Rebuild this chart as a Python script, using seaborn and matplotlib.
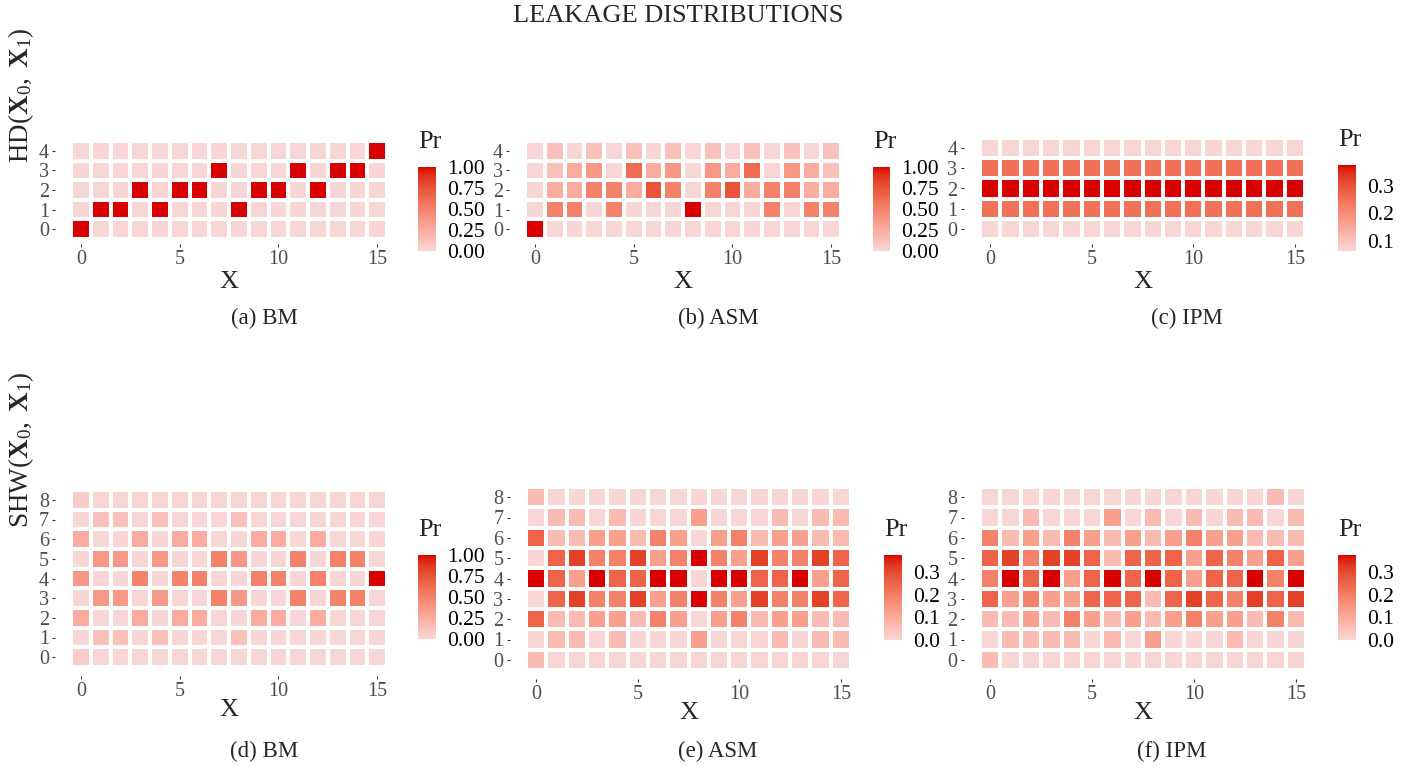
import numpy as np
import pandas as pd
import matplotlib
matplotlib.use("Agg")
import matplotlib.pyplot as plt
import seaborn as sns
from matplotlib.colors import ListedColormap

# ---------------- data ----------------
X_VALUES = list(range(16))
HD_LEVELS = [0, 1, 2, 3, 4]
SHW_LEVELS = [0, 1, 2, 3, 4, 5, 6, 7, 8]

# rows = level (0 .. max), columns = X 0..15
BM_HD = [
    [1, 0, 0, 0, 0, 0, 0, 0, 0, 0, 0, 0, 0, 0, 0, 0],
    [0, 1, 1, 0, 1, 0, 0, 0, 1, 0, 0, 0, 0, 0, 0, 0],
    [0, 0, 0, 1, 0, 1, 1, 0, 0, 1, 1, 0, 1, 0, 0, 0],
    [0, 0, 0, 0, 0, 0, 0, 1, 0, 0, 0, 1, 0, 1, 1, 0],
    [0, 0, 0, 0, 0, 0, 0, 0, 0, 0, 0, 0, 0, 0, 0, 1],
]
ASM_HD = [
    [1, 0, 0, 0, 0, 0, 0, 0, 0, 0, 0, 0, 0, 0, 0, 0],
    [0, .5, .5, 0, .5, 0, 0, 0, 1, 0, 0, 0, .5, 0, .5, .5],
    [0, .25, .25, .5, .5, .25, .75, .5, 0, .5, .75, .25, .5, .5, .25, .25],
    [0, .125, .25, .375, 0, .625, .25, .375, 0, .375, .25, .625, 0, .375, .25, .125],
    [0, .125, 0, .125, 0, .125, 0, .125, 0, .125, 0, .125, 0, .125, 0, .125],
]
IPM_HD = [
    [.0625] * 16,
    [.25] * 16,
    [.375] * 16,
    [.25] * 16,
    [.0625] * 16,
]
BM_SHW = [
    [.0625, 0, 0, 0, 0, 0, 0, 0, 0, 0, 0, 0, 0, 0, 0, 0],
    [0, .125, .125, 0, .125, 0, 0, 0, .125, 0, 0, 0, 0, 0, 0, 0],
    [.25, 0, 0, .25, 0, .25, .25, 0, 0, .25, .25, 0, .25, 0, 0, 0],
    [0, .375, .375, 0, .375, 0, 0, .5, .375, 0, 0, .5, 0, .5, .5, 0],
    [.375, 0, 0, .5, 0, .5, .5, 0, 0, .5, .5, 0, .5, 0, 0, 1],
    [0, .375, .375, 0, .375, 0, 0, .5, .375, 0, 0, .5, 0, .5, .5, 0],
    [.25, 0, 0, .25, 0, .25, .25, 0, 0, .25, .25, 0, .25, 0, 0, 0],
    [0, .125, .125, 0, .125, 0, 0, 0, .125, 0, 0, 0, 0, 0, 0, 0],
    [.0625, 0, 0, 0, 0, 0, 0, 0, 0, 0, 0, 0, 0, 0, 0, 0],
]
ASM_SHW = [
    [.0625, 0, 0, 0, 0, 0, 0, 0, 0, 0, 0, 0, 0, 0, 0, 0],
    [0, .0625, .0625, 0, .0625, 0, 0, 0, .125, 0, 0, 0, .0625, 0, .0625, .0625],
    [.25, .0625, .0625, .125, .125, .0625, .1875, .125, 0, .125, .1875, .0625, .125, .125, .0625, .0625],
    [0, .25, .3125, .1875, .1875, .3125, .125, .1875, .375, .1875, .125, .3125, .1875, .1875, .3125, .25],
    [.375, .25, .125, .375, .25, .25, .375, .375, 0, .375, .375, .25, .25, .375, .125, .25],
    [0, .25, .3125, .1875, .1875, .3125, .125, .1875, .375, .1875, .125, .3125, .1875, .1875, .3125, .25],
    [.25, .0625, .0625, .125, .125, .0625, .1875, .125, 0, .125, .1875, .0625, .125, .125, .0625, .0625],
    [0, .0625, .0625, 0, .0625, 0, 0, 0, .125, 0, 0, 0, .0625, 0, .0625, .0625],
    [.0625, 0, 0, 0, 0, 0, 0, 0, 0, 0, 0, 0, 0, 0, 0, 0],
]
IPM_SHW = [
    [.0625, 0, 0, 0, 0, 0, 0, 0, 0, 0, 0, 0, 0, 0, 0, 0],
    [0, .0625, .0625, .0625, .0625, 0, .0625, 0, .125, 0, 0, 0, .0625, 0, 0, 0],
    [.0625, .0625, .125, .0625, .1875, .125, .0625, .125, .0625, .125, .1875, .125, .125, .0625, .1875, .0625],
    [.25, .125, .1875, .125, .125, .25, .25, .25, .0625, .25, .3125, .25, .1875, .3125, .25, .3125],
    [.1875, .375, .25, .375, .125, .25, .375, .25, .375, .25, .125, .25, .25, .375, .1875, .375],
    [.25, .3125, .1875, .3125, .3125, .25, .0625, .25, .25, .25, .125, .25, .1875, .125, .25, .125],
    [.1875, .0625, .125, .0625, .1875, .125, .0625, .125, .0625, .125, .1875, .125, .125, .0625, .0625, .0625],
    [0, 0, .0625, 0, 0, 0, .125, 0, .0625, 0, .0625, 0, .0625, .0625, 0, .0625],
    [0, 0, 0, 0, 0, 0, 0, 0, 0, 0, 0, 0, 0, 0, .0625, 0],
]

TITLE = "LEAKAGE DISTRIBUTIONS"
CAPTIONS = ["(a) BM", "(b) ASM", "(c) IPM", "(d) BM", "(e) ASM", "(f) IPM"]
X_TICKS = [0, 5, 10, 15]

# ---------------- style ----------------
sns.set_theme(style="white")
plt.rcParams['font.family'] = ['Liberation Serif', 'DejaVu Serif']
plt.rcParams['mathtext.fontset'] = 'custom'
plt.rcParams['mathtext.rm'] = 'Liberation Serif'
plt.rcParams['mathtext.bf'] = 'Liberation Serif:bold'
plt.rcParams['mathtext.it'] = 'Liberation Serif:italic'

W, H = 1416, 769
fig = plt.figure(figsize=(W / 100, H / 100), dpi=100)


def frac(l, t, r, b):
    return [l / W, 1 - b / H, (r - l) / W, (b - t) / H]


# Lab-interpolated gradient (like ggplot's scale_fill_gradient)
_M = np.array([[0.4124564, 0.3575761, 0.1804375],
               [0.2126729, 0.7151522, 0.0721750],
               [0.0193339, 0.1191920, 0.9503041]])
_WP = np.array([0.95047, 1.0, 1.08883])


def to_lab(hexc):
    rgb = np.array([int(hexc[i:i + 2], 16) / 255 for i in (1, 3, 5)])
    lin = np.where(rgb <= 0.04045, rgb / 12.92, ((rgb + 0.055) / 1.055) ** 2.4)
    t = (_M @ lin) / _WP
    f = np.where(t > (6 / 29) ** 3, np.cbrt(t), t / (3 * (6 / 29) ** 2) + 4 / 29)
    return np.array([116 * f[1] - 16, 500 * (f[0] - f[1]), 200 * (f[1] - f[2])])


def from_lab(lab):
    L, a, b = lab
    fy = (L + 16) / 116
    f = np.array([fy + a / 500, fy, fy - b / 200])
    t = np.where(f > 6 / 29, f ** 3, 3 * (6 / 29) ** 2 * (f - 4 / 29))
    lin = np.clip(np.linalg.inv(_M) @ (t * _WP), 0, 1)
    rgb = np.where(lin <= 0.0031308, 12.92 * lin, 1.055 * lin ** (1 / 2.4) - 0.055)
    return np.clip(rgb, 0, 1)


lo, hi = to_lab("#F8D6D6"), to_lab("#D80000")
cmap = ListedColormap([from_lab(lo + (hi - lo) * s) for s in np.linspace(0, 1, 256)])

TICK_C = '#333333'
LAB_C = '#4D4D4D'


def panel(values, levels, cells, cbar_box, vmin, vmax, cticks, cfmt):
    l, t, r, b = cells
    n = len(levels)
    cw = (r - l) / 16
    ch = (b - t) / n
    ex = 0.8      # ggplot continuous expansion (x)
    ey = 0.05 * n  # (y)
    ax = fig.add_axes(frac(l - ex * cw, t - ey * ch, r + ex * cw, b + ey * ch))
    cax = fig.add_axes(frac(*cbar_box))
    df = pd.DataFrame(values, index=levels, columns=X_VALUES).iloc[::-1]
    sns.heatmap(df, ax=ax, cmap=cmap, vmin=vmin, vmax=vmax, linewidths=2.8,
                linecolor='white', cbar_ax=cax,
                cbar_kws={'ticks': cticks, 'format': cfmt},
                xticklabels=False, yticklabels=False)
    ax.set_xlim(-ex, 16 + ex)
    ax.set_ylim(n + ey, -ey)
    ax.set_xticks([v + 0.5 for v in X_TICKS])
    ax.set_xticklabels([str(v) for v in X_TICKS])
    ax.set_yticks([n - 1 - i + 0.5 for i in range(n)])
    ax.set_yticklabels([str(v) for v in levels], rotation=0)
    ax.set_xlabel('')
    ax.set_ylabel('')
    ax.tick_params(axis='both', bottom=True, left=True, length=2.5, width=0.8,
                   color=TICK_C, labelcolor=LAB_C, labelsize=14.5, pad=2)
    for s in ax.spines.values():
        s.set_visible(False)
    cbar = ax.collections[0].colorbar
    cbar.outline.set_visible(False)
    cax.tick_params(axis='y', direction='in', left=True, right=True, length=3.6,
                    width=0.8, color='white', labelcolor='black', labelsize=15.5, pad=8)
    fig.text(cbar_box[0] / W, 1 - (cbar_box[1] - 25) / H, 'Pr', ha='left',
             va='center', size=19)
    fig.text((l + r) / 2 / W, 1 - (b + 43) / H, 'X', ha='center', va='center', size=19)
    return ax


# top row
panel(BM_HD, HD_LEVELS, (71, 141, 387, 239), (418, 167, 436, 251), 0, 1,
      [0, .25, .5, .75, 1], '%.2f')
panel(ASM_HD, HD_LEVELS, (525, 141, 841, 239), (873, 167, 890, 251), 0, 1,
      [0, .25, .5, .75, 1], '%.2f')
panel(IPM_HD, HD_LEVELS, (980, 138, 1305, 239), (1338, 165, 1356, 251), .0625, .375,
      [.1, .2, .3], '%.1f')
# bottom row
panel(BM_SHW, SHW_LEVELS, (71, 490, 387, 667), (418, 555, 436, 639), 0, 1,
      [0, .25, .5, .75, 1], '%.2f')
panel(ASM_SHW, SHW_LEVELS, (526, 487, 851, 670), (884, 555, 902, 640), 0, .375,
      [0, .1, .2, .3], '%.1f')
panel(IPM_SHW, SHW_LEVELS, (980, 487, 1306, 670), (1338, 555, 1356, 640), 0, .375,
      [0, .1, .2, .3], '%.1f')

# captions
cap_pos = [(264, 318), (718, 318), (1187, 318), (264, 751), (718, 751), (1172, 751)]
for txt, (cx, cy) in zip(CAPTIONS, cap_pos):
    fig.text(cx / W, 1 - cy / H, txt, ha='center', va='center', size=16.5)

fig.text(21 / W, 1 - 95 / H, r'HD$(\mathbf{X}_0,\ \mathbf{X}_1)$', rotation=90,
         ha='center', va='center', size=19.5)
fig.text(21 / W, 1 - 450 / H, r'SHW$(\mathbf{X}_0,\ \mathbf{X}_1)$', rotation=90,
         ha='center', va='center', size=19.5)
fig.text(678 / W, 1 - 16 / H, TITLE, ha='center', va='center', size=19)

fig.savefig("out.png", dpi=100)
